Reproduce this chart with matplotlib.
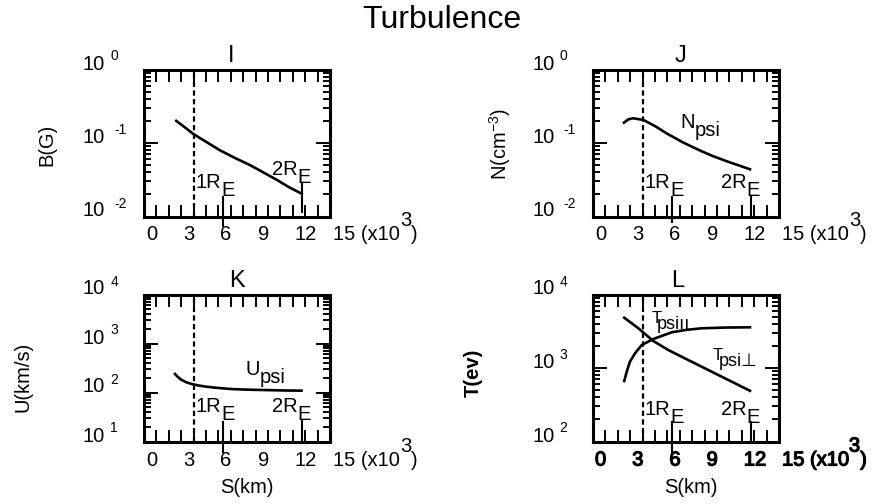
import numpy as np
import matplotlib
matplotlib.use('Agg')
import matplotlib.pyplot as plt
import matplotlib.patheffects as pe
from matplotlib.ticker import MultipleLocator, LogLocator, NullFormatter

plt.rcParams['font.family'] = ['Liberation Sans', 'DejaVu Sans']
plt.rcParams['mathtext.fontset'] = 'custom'
plt.rcParams['mathtext.rm'] = 'Liberation Sans'
plt.rcParams['mathtext.it'] = 'Liberation Sans'
plt.rcParams['mathtext.bf'] = 'Liberation Sans:bold'

W, H = 878, 504
FS = 14.5

# S in units of 10^3 km
RE1, RE2 = 6.371, 12.742
S_DASH = 4.0

# panel I : B(G)
s_b = [2.6, 3.2, 4.0, 5.0, 6.1, 7.3, 8.55, 9.6, 10.7, 11.7, 12.72]
b_psi = [0.200, 0.168, 0.132, 0.104, 0.080, 0.063, 0.050, 0.040, 0.0316, 0.025, 0.0204]

# panel J : N(cm^-3)
s_n = [2.5, 2.85, 3.25, 4.06, 5.0, 5.94, 7.3, 8.63, 9.7, 10.78, 12.66]
n_psi = [0.189, 0.210, 0.217, 0.206, 0.170, 0.135, 0.101, 0.079, 0.066, 0.0565, 0.0439]

# panel K : U(km/s)
s_u = [2.5, 2.75, 3.04, 3.4, 3.85, 4.4, 5.05, 6.1, 7.2, 8.5, 9.9, 11.3, 12.7]
u_psi = [239, 205, 180, 162, 149, 139, 131, 123, 117, 114, 112, 110, 109]

# panel L : T(ev)
s_tpar = [2.52, 2.72, 2.98, 3.39, 3.93, 4.86, 6.35, 7.5, 8.77, 10.7, 12.66]
t_par = [665, 890, 1220, 1585, 2055, 2480, 3060, 3300, 3470, 3550, 3580]
s_tperp = [2.52, 3.66, 4.86, 6.07, 7.4, 8.4, 10.09, 11.0, 12.66]
t_perp = [4830, 3470, 2330, 1757, 1355, 1117, 805, 676, 490]

x_ticklabels = [0, 3, 6, 9, 12]

fig = plt.figure(figsize=(W / 100, H / 100), dpi=100)


def px_axes(left, top, right, bottom):
    return fig.add_axes([left / W, 1 - bottom / H, (right - left) / W, (bottom - top) / H])


def rich(ax, parts, xy, xycoords, offset, **kw):
    # parts: (text, dx, dy, size); each later part follows the previous one
    text, _, _, size = parts[0]
    first = ax.annotate(text, xy=xy, xycoords=xycoords, xytext=offset,
                        textcoords='offset pixels', ha='left', va='baseline',
                        fontsize=size, annotation_clip=False, **kw)
    prev = first
    for text, dx, dy, size in parts[1:]:
        prev = ax.annotate(text, xy=(1, 0), xycoords=(prev, first), xytext=(dx, dy),
                           textcoords='offset pixels', ha='left', va='bottom',
                           fontsize=size, annotation_clip=False, **kw)
    return first


def style(ax, ylo, yhi, title, title_x, re_y, re_spans, heavy_x=False):
    ax.set_xlim(0, 15)
    ax.set_yscale('log')
    ax.set_ylim(ylo, yhi)
    ax.xaxis.set_major_locator(MultipleLocator(1))
    ax.yaxis.set_major_locator(LogLocator(base=10))
    ax.yaxis.set_minor_locator(LogLocator(base=10, subs=np.arange(2, 10)))
    ax.yaxis.set_minor_formatter(NullFormatter())
    ax.tick_params(which='both', direction='in', top=True, right=True,
                   labelleft=False, labelbottom=False, width=1.4)
    ax.tick_params(axis='x', length=8.6)
    ax.tick_params(axis='y', which='major', length=10)
    ax.tick_params(axis='y', which='minor', length=5)
    for sp in ax.spines.values():
        sp.set_linewidth(2.2)

    ax.axvline(S_DASH, color='k', lw=1.6, dashes=(2.4, 1.5))
    xtr = ax.get_xaxis_transform()
    for xre, (y0, y1) in zip([RE1, RE2], re_spans):
        ax.plot([xre, xre], [y0, y1], transform=xtr, color='k', lw=1.5, clip_on=False)

    # x tick labels (the L panel ones are printed heavier)
    kw = {}
    if heavy_x:
        kw['path_effects'] = [pe.withStroke(linewidth=0.9, foreground='k')]
    for v in x_ticklabels:
        rich(ax, [(str(v), 0, 0, FS)], (v, 0), xtr, (2, -24), **kw)
    rich(ax, [('15 (x10', 0, 0, FS), ('3', 0, 14, FS), (')', 0, 0, FS)],
         (15, 0), xtr, (3, -24), **kw)

    # y tick labels
    ytr = ax.get_yaxis_transform()
    for e in range(int(round(np.log10(ylo))), int(round(np.log10(yhi))) + 1):
        gap = 9 if e < 0 else 5
        rich(ax, [('10', 0, 0, FS), (str(e), gap, 10, 10)], (0, 10.0 ** e), ytr, (-61, 0))

    ax.annotate(title, xy=(title_x, 1), xycoords='axes fraction', xytext=(0, 7.5),
                textcoords='offset pixels', ha='center', va='baseline', fontsize=17)

    # 1RE / 2RE labels
    rich(ax, [('1R', 0, 0, FS), ('E', 0, -8, FS)], (4.15, re_y[0]), xtr, (0, 0))
    rich(ax, [('2R', 0, 0, FS), ('E', 0, -8, FS)], (10.3, re_y[1]), xtr, (0, 0))


axI = px_axes(144, 69.5, 330, 216.5)
axJ = px_axes(593, 69.5, 779, 216.5)
axK = px_axes(144, 294.5, 330, 441.5)
axL = px_axes(593, 294.5, 779, 441.5)

style(axI, 1e-2, 1e0, 'I', 0.468, (0.194, 0.282), ((-0.065, 0.135), (0.03, 0.23)))
style(axJ, 1e-2, 1e0, 'J', 0.473, (0.194, 0.194), ((-0.035, 0.135), (0.0, 0.135)))
style(axK, 1e1, 1e4, 'K', 0.5, (0.203, 0.203), ((-0.07, 0.13), (0.0, 0.145)))
style(axL, 1e2, 1e4, 'L', 0.457, (0.18, 0.18), ((-0.07, 0.13), (0.0, 0.13)), heavy_x=True)

lw = 1.9
axI.plot(s_b, b_psi, color='k', lw=lw)
axJ.plot(s_n, n_psi, color='k', lw=lw)
axK.plot(s_u, u_psi, color='k', lw=lw)
axL.plot(s_tpar, t_par, color='k', lw=lw)
axL.plot(s_tperp, t_perp, color='k', lw=lw)

# curve names
rich(axJ, [('N', 0, 0, FS), ('psi', 0, -8, FS)], (7.02, 0.602), axJ.get_xaxis_transform(), (0, 0))
rich(axK, [('U', 0, 0, FS), ('psi', 0, -8, FS)], (8.15, 0.452), axK.get_xaxis_transform(), (0, 0))
rich(axL, [('T', 0, 0, 12), ('psi\u0131\u0131', -5, -7, 13)], (4.72, 0.806),
     axL.get_xaxis_transform(), (0, 0))
rich(axL, [('T', 0, 0, 12), ('psi\u22a5', -4, -7, 13)], (9.68, 0.554),
     axL.get_xaxis_transform(), (0, 0))

# titles and axis labels
fig.text(441.7 / W, 1 - 28.3 / H, 'Turbulence', ha='center', va='baseline', fontsize=23)
fig.text(47 / W, 1 - 145 / H, 'B(G)', rotation=90, ha='center', va='center', fontsize=FS)
fig.text(500 / W, 1 - 144 / H, r'N(cm$^{-3}$)', rotation=90, ha='center', va='center', fontsize=FS)
fig.text(23 / W, 1 - 377 / H, 'U(km/s)', rotation=90, ha='center', va='center', fontsize=FS)
fig.text(473 / W, 1 - 373 / H, 'T(ev)', rotation=90, ha='center', va='center', fontsize=FS,
         fontweight='bold')
fig.text(246.7 / W, 1 - 493 / H, 'S(km)', ha='center', va='baseline', fontsize=FS)
fig.text(691 / W, 1 - 493 / H, 'S(km)', ha='center', va='baseline', fontsize=FS)

fig.savefig('out.png', dpi=100)
